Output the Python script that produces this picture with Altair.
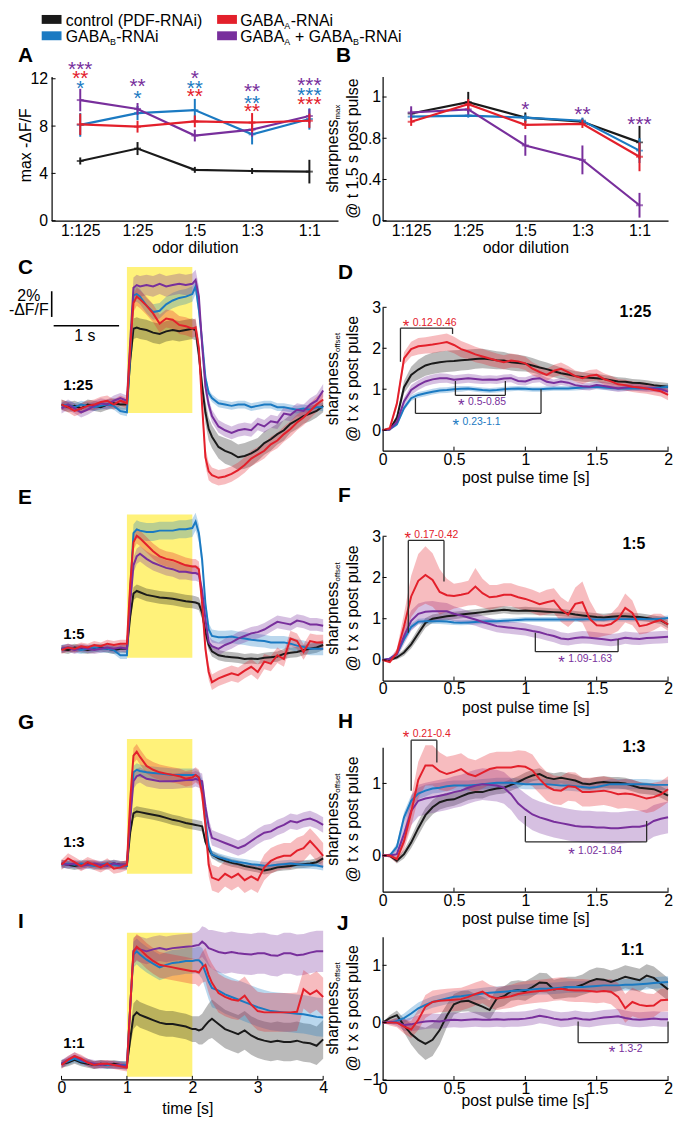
import altair as alt
import pandas as pd

FONT = "Liberation Sans"
COL = {"ctrl": "#1a1a1a", "gA": "#e3202b", "gB": "#1b7ac2", "gAB": "#782f9c"}
DRAW = ["ctrl", "gB", "gAB", "gA"]
YELLOW = "#fff27a"
BRK = "#2b2b2b"

# ------------------------------------------------------------------ data
DILUTIONS = ["1:125", "1:25", "1:5", "1:3", "1:1"]

A_BLK = [5.05, 6.1, 4.3, 4.2, 4.15]
A_BLK_ERR = [0.3, 0.55, 0.25, 0.25, 1.0]
A_RED = [8.15, 7.95, 8.4, 8.3, 8.45]
A_RED_ERR = [0.9, 0.5, 0.5, 0.8, 0.6]
A_BLU = [8.1, 9.1, 9.35, 7.3, 8.6]
A_BLU_ERR = [1.0, 0.6, 0.95, 0.85, 0.9]
A_PUR = [10.2, 9.45, 7.2, 7.7, 8.85]
A_PUR_ERR = [0.95, 0.5, 0.5, 0.6, 0.6]

A_STAR_DIL = ["1:125", "1:125", "1:125", "1:25", "1:25", "1:5", "1:5", "1:5", "1:3", "1:3", "1:3", "1:1", "1:1", "1:1"]
A_STAR_Y = [13.25, 12.5, 11.65, 11.78, 10.8, 12.47, 11.63, 10.94, 11.36, 10.38, 9.69, 11.86, 11.0, 10.25]
A_STAR_TXT = ["***", "**", "*", "**", "*", "*", "**", "**", "**", "**", "**", "***", "***", "***"]
A_STAR_GRP = ["gAB", "gA", "gB", "gAB", "gB", "gAB", "gB", "gA", "gAB", "gB", "gA", "gAB", "gB", "gA"]

B_BLK = [1.04, 1.15, 1.0, 0.96, 0.76]
B_BLK_ERR = [0.03, 0.1, 0.05, 0.03, 0.16]
B_RED = [0.96, 1.13, 0.93, 0.94, 0.62]
B_RED_ERR = [0.04, 0.05, 0.04, 0.04, 0.14]
B_BLU = [1.01, 1.02, 1.0, 0.97, 0.68]
B_BLU_ERR = [0.03, 0.02, 0.03, 0.03, 0.12]
B_PUR = [1.05, 1.08, 0.73, 0.59, 0.15]
B_PUR_ERR = [0.06, 0.05, 0.1, 0.14, 0.12]

B_STAR_DIL = ["1:5", "1:3", "1:1"]
B_STAR_Y = [1.13, 1.08, 0.99]
B_STAR_TXT = ["*", "**", "***"]
B_STAR_GRP = ["gAB", "gAB", "gAB"]

# time grid of the response traces (s)
TL = [0.0, 0.1, 0.2, 0.3, 0.4, 0.5, 0.6, 0.7, 0.8, 0.9,
      1.0, 1.05, 1.1, 1.15, 1.2,
      1.3, 1.4, 1.5, 1.6, 1.7, 1.8, 1.9, 2.0,
      2.05, 2.1, 2.15, 2.2, 2.25, 2.3,
      2.4, 2.5, 2.6, 2.7, 2.8, 2.9, 3.0, 3.1, 3.2, 3.3, 3.4, 3.5, 3.6, 3.7, 3.8, 3.9, 4.0]

# C (1:25)
C_BLK = [0.1, -0.1, 0.0, -0.2, 0.1, 0.0, -0.1, 0.1, 0.2, 0.1,
         0.1, 3.5, 6.0, 6.1, 6.0,
         5.9, 5.7, 5.6, 5.8, 5.9, 5.8, 5.9, 6.0,
         5.9, 4.0, 1.5, -0.5, -1.8, -2.4,
         -3.2, -3.5, -3.7, -4.0, -3.9, -3.7, -3.4, -2.9, -2.6, -2.2, -1.9, -1.4, -1.1, -0.8, -0.6, -0.4, 0.0]
C_BLK_SE = [0.4, 0.4, 0.4, 0.4, 0.4, 0.4, 0.4, 0.4, 0.4, 0.4,
            0.4, 0.5, 0.8, 0.8, 0.8,
            0.8, 0.8, 0.8, 0.8, 0.8, 0.8, 0.8, 0.8,
            0.8, 0.8, 0.8, 0.9, 0.9, 0.9,
            0.9, 1.0, 1.0, 1.0, 1.0, 1.0, 0.9, 0.9, 0.9, 0.8, 0.8, 0.7, 0.7, 0.6, 0.6, 0.5, 0.5]
C_RED = [0.1, -0.1, -0.4, -0.2, 0.0, 0.1, 0.3, 0.4, 0.1, 0.4,
         0.2, 4.5, 8.0, 8.5, 8.3,
         7.8, 7.2, 6.4, 6.8, 6.7, 6.3, 6.2, 6.0,
         6.1, 4.5, 0.0, -4.0, -5.1, -5.4,
         -5.6, -5.5, -5.3, -5.0, -4.6, -4.1, -3.8, -3.5, -3.0, -2.7, -2.2, -1.8, -1.3, -0.9, -0.4, 0.1, 0.5]
C_RED_SE = [0.4, 0.4, 0.4, 0.4, 0.4, 0.4, 0.4, 0.4, 0.4, 0.4,
            0.4, 0.6, 0.7, 0.7, 0.7,
            0.7, 0.7, 0.7, 0.7, 0.7, 0.7, 0.7, 0.7,
            0.7, 0.7, 0.7, 0.7, 0.7, 0.6,
            0.6, 0.6, 0.6, 0.6, 0.6, 0.6, 0.6, 0.6, 0.6, 0.6, 0.6, 0.6, 0.6, 0.6, 0.6, 0.6, 0.6]
C_BLU = [0.0, 0.1, -0.1, 0.1, 0.0, -0.1, 0.0, 0.1, 0.0, -0.4,
         -0.5, 4.0, 8.6, 8.7, 8.5,
         7.8, 7.3, 7.4, 7.9, 8.2, 8.4, 8.5, 8.7,
         9.3, 7.5, 5.0, 2.2, 1.0, 0.6,
         0.2, 0.1, 0.0, 0.1, 0.1, -0.1, 0.0, 0.1, 0.1, -0.1, -0.1, -0.2, -0.3, -0.2, -0.3, -0.1, -0.1]
C_BLU_SE = [0.3, 0.3, 0.3, 0.3, 0.3, 0.3, 0.3, 0.3, 0.3, 0.3,
            0.3, 0.5, 0.6, 0.6, 0.6,
            0.6, 0.6, 0.6, 0.6, 0.6, 0.6, 0.6, 0.6,
            0.6, 0.6, 0.5, 0.4, 0.3, 0.3,
            0.3, 0.3, 0.3, 0.3, 0.3, 0.3, 0.3, 0.3, 0.3, 0.3, 0.3, 0.3, 0.3, 0.3, 0.3, 0.3, 0.3]
C_PUR = [-0.2, 0.1, -0.2, -0.5, -0.3, 0.0, 0.2, 0.1, 0.4, 0.6,
         0.4, 5.0, 9.2, 9.4, 9.3,
         9.4, 9.3, 9.5, 9.3, 9.4, 9.5, 9.4, 9.5,
         9.8, 8.5, 4.7, 1.5, 0.1, -0.8,
         -1.6, -1.9, -2.1, -1.9, -1.8, -1.9, -1.4, -1.6, -1.2, -1.3, -0.6, -0.7, -0.3, -0.4, 0.1, 0.4, 1.2]
C_PUR_SE = [0.4, 0.4, 0.4, 0.4, 0.4, 0.4, 0.4, 0.4, 0.4, 0.4,
            0.4, 0.6, 0.8, 0.8, 0.8,
            0.8, 0.8, 0.8, 0.8, 0.8, 0.8, 0.8, 0.8,
            0.8, 0.8, 0.7, 0.6, 0.5, 0.5,
            0.5, 0.5, 0.5, 0.5, 0.5, 0.5, 0.5, 0.5, 0.5, 0.5, 0.5, 0.5, 0.5, 0.5, 0.5, 0.5, 0.5]

# E (1:5)
E_BLK = [0.0, -0.1, 0.1, 0.0, -0.1, 0.0, 0.1, 0.0, -0.1, 0.0,
         0.0, 2.5, 4.3, 4.5, 4.4,
         4.2, 4.1, 4.0, 3.95, 3.9, 3.8, 3.7, 3.65,
         3.6, 3.5, 2.8, 1.3, 0.3, -0.2,
         -0.5, -0.6, -0.65, -0.7, -0.8, -0.75, -0.8, -0.7, -0.65, -0.6, -0.4, -0.3, -0.25, -0.1, 0.0, 0.1, 0.3]
E_BLK_SE = [0.3, 0.3, 0.3, 0.3, 0.3, 0.3, 0.3, 0.3, 0.3, 0.3,
            0.3, 0.4, 0.5, 0.5, 0.5,
            0.5, 0.5, 0.5, 0.5, 0.5, 0.5, 0.5, 0.5,
            0.5, 0.5, 0.5, 0.5, 0.4, 0.4,
            0.4, 0.4, 0.4, 0.4, 0.4, 0.4, 0.4, 0.4, 0.4, 0.4, 0.4, 0.4, 0.4, 0.4, 0.4, 0.4, 0.4]
E_RED = [-0.1, 0.1, 0.0, 0.2, 0.1, 0.3, 0.2, 0.4, 0.3, 0.4,
         0.4, 5.0, 8.3, 8.8, 8.6,
         8.1, 7.6, 7.2, 7.0, 6.9, 6.7, 6.5, 6.4,
         6.4, 6.2, 3.5, 0.0, -1.8, -2.6,
         -2.3, -2.1, -1.9, -2.05, -1.7, -1.4, -1.8, -1.0, -1.15, -0.5, -0.8, 0.8, 0.6, -0.25, 0.6, 0.5, 0.5]
E_RED_SE = [0.3, 0.3, 0.3, 0.3, 0.3, 0.3, 0.3, 0.3, 0.3, 0.3,
            0.3, 0.5, 0.6, 0.6, 0.6,
            0.6, 0.6, 0.6, 0.6, 0.6, 0.6, 0.6, 0.6,
            0.6, 0.6, 0.6, 0.6, 0.6, 0.6,
            0.6, 0.6, 0.6, 0.6, 0.6, 0.6, 0.6, 0.6, 0.6, 0.6, 0.6, 0.6, 0.6, 0.6, 0.6, 0.6, 0.6]
E_BLU = [0.0, 0.1, 0.0, -0.1, 0.0, 0.1, 0.0, 0.0, -0.1, -0.5,
         -0.5, 4.5, 9.0, 9.3, 9.2,
         9.1, 9.1, 9.2, 9.2, 9.2, 9.3, 9.3, 9.4,
         9.9, 9.0, 6.9, 3.5, 1.5, 1.0,
         0.9, 0.9, 0.95, 0.85, 0.8, 0.7, 0.65, 0.6, 0.5, 0.5, 0.5, 0.4, 0.25, 0.15, 0.0, 0.0, 0.0]
E_BLU_SE = [0.3, 0.3, 0.3, 0.3, 0.3, 0.3, 0.3, 0.3, 0.3, 0.3,
            0.3, 0.5, 0.7, 0.7, 0.7,
            0.7, 0.7, 0.7, 0.7, 0.7, 0.7, 0.7, 0.7,
            0.7, 0.7, 0.6, 0.5, 0.5, 0.5,
            0.5, 0.5, 0.5, 0.5, 0.5, 0.5, 0.5, 0.5, 0.5, 0.5, 0.5, 0.5, 0.5, 0.5, 0.5, 0.5, 0.5]
E_PUR = [0.0, 0.1, -0.1, 0.1, 0.0, -0.1, 0.0, 0.1, 0.0, 0.1,
         0.0, 3.5, 6.5, 7.2, 7.4,
         7.0, 6.7, 6.5, 6.3, 6.2, 6.0, 6.0, 5.9,
         5.9, 5.8, 4.5, 2.3, 0.5, 0.2,
         0.0, 0.3, 0.5, 0.8, 1.0, 1.2, 1.3, 1.5, 1.8, 2.1, 2.0, 1.9, 2.2, 2.1, 1.9, 1.9, 1.8]
E_PUR_SE = [0.3, 0.3, 0.3, 0.3, 0.3, 0.3, 0.3, 0.3, 0.3, 0.3,
            0.3, 0.5, 0.6, 0.6, 0.6,
            0.6, 0.6, 0.6, 0.6, 0.6, 0.6, 0.6, 0.6,
            0.6, 0.6, 0.6, 0.5, 0.5, 0.5,
            0.5, 0.5, 0.5, 0.5, 0.5, 0.5, 0.5, 0.5, 0.5, 0.5, 0.5, 0.5, 0.5, 0.5, 0.5, 0.5, 0.5]

# G (1:3)
G_BLK = [0.1, 0.0, -0.1, 0.0, 0.1, 0.0, -0.1, 0.0, 0.1, 0.0,
         0.0, 2.5, 4.0, 4.15, 4.1,
         4.0, 3.9, 3.8, 3.65, 3.5, 3.4, 3.25, 3.15,
         3.1, 3.05, 3.0, 1.8, 1.2, 0.8,
         0.5, 0.3, 0.15, 0.05, -0.1, -0.2, -0.3, -0.45, -0.35, -0.2, -0.15, -0.1, 0.0, 0.05, 0.1, 0.2, 0.5]
G_BLK_SE = [0.3, 0.3, 0.3, 0.3, 0.3, 0.3, 0.3, 0.3, 0.3, 0.3,
            0.3, 0.3, 0.4, 0.4, 0.4,
            0.4, 0.4, 0.4, 0.4, 0.4, 0.4, 0.4, 0.4,
            0.4, 0.4, 0.4, 0.3, 0.3, 0.3,
            0.3, 0.3, 0.3, 0.3, 0.3, 0.3, 0.3, 0.3, 0.3, 0.3, 0.3, 0.3, 0.3, 0.3, 0.3, 0.3, 0.3]
G_RED = [0.0, 0.5, 0.2, -0.1, 0.2, 0.0, -0.2, 0.1, -0.3, -0.2,
         0.0, 5.0, 8.5, 8.8, 8.4,
         7.7, 7.4, 7.2, 7.1, 7.0, 6.9, 6.7, 6.8,
         7.0, 6.8, 5.5, 3.1, 0.0, -1.0,
         -1.2, -0.7, -1.0, -0.7, -1.2, -0.9, -1.2, -0.2, 0.3, 0.55, 0.7, 0.7, 1.1, 1.3, 1.85, 1.3, 0.7]
G_RED_SE = [0.4, 0.4, 0.4, 0.4, 0.4, 0.4, 0.4, 0.4, 0.4, 0.4,
            0.4, 0.5, 0.6, 0.6, 0.6,
            0.6, 0.6, 0.6, 0.6, 0.6, 0.6, 0.6, 0.6,
            0.6, 0.6, 0.7, 0.8, 0.9, 1.0,
            1.0, 1.0, 1.0, 1.0, 1.0, 1.0, 1.0, 1.0, 1.0, 1.0, 1.0, 1.0, 1.0, 1.0, 1.0, 1.0, 1.0]
G_BLU = [0.0, 0.1, 0.0, 0.1, 0.0, -0.1, 0.0, 0.1, 0.0, -0.1,
         -0.1, 4.0, 7.2, 7.4, 7.3,
         7.2, 7.15, 7.1, 7.05, 7.0, 7.0, 7.0, 7.0,
         7.0, 6.8, 6.2, 3.5, 1.5, 0.8,
         0.6, 0.45, 0.3, 0.2, 0.15, 0.05, 0.0, -0.08, -0.05, 0.0, 0.05, 0.1, 0.05, 0.0, 0.0, -0.05, -0.15]
G_BLU_SE = [0.3, 0.3, 0.3, 0.3, 0.3, 0.3, 0.3, 0.3, 0.3, 0.3,
            0.3, 0.4, 0.5, 0.5, 0.5,
            0.5, 0.5, 0.5, 0.5, 0.5, 0.5, 0.5, 0.5,
            0.5, 0.5, 0.5, 0.4, 0.3, 0.3,
            0.3, 0.3, 0.3, 0.3, 0.3, 0.3, 0.3, 0.3, 0.3, 0.3, 0.3, 0.3, 0.3, 0.3, 0.3, 0.3, 0.3]
G_PUR = [0.1, 0.0, 0.1, -0.1, 0.0, 0.1, 0.0, -0.1, 0.1, 0.0,
         0.0, 3.5, 6.5, 6.9, 7.0,
         6.7, 6.6, 6.5, 6.5, 6.5, 6.55, 6.6, 6.6,
         6.7, 6.6, 6.5, 4.5, 3.0, 2.1,
         1.9, 1.7, 1.5, 1.3, 1.5, 1.85, 2.2, 2.5, 2.6, 2.9, 3.1, 3.4, 3.3, 3.5, 3.6, 3.4, 3.1]
G_PUR_SE = [0.3, 0.3, 0.3, 0.3, 0.3, 0.3, 0.3, 0.3, 0.3, 0.3,
            0.3, 0.5, 0.6, 0.6, 0.6,
            0.6, 0.6, 0.6, 0.6, 0.6, 0.6, 0.6, 0.6,
            0.6, 0.6, 0.6, 0.6, 0.6, 0.6,
            0.6, 0.6, 0.6, 0.6, 0.6, 0.6, 0.6, 0.6, 0.6, 0.6, 0.6, 0.6, 0.6, 0.6, 0.6, 0.6, 0.6]

# I (1:1)
I_BLK = [0.1, 0.2, 0.4, 0.2, 0.1, 0.0, 0.1, 0.0, 0.1, 0.0,
         0.0, 2.0, 3.8, 4.1, 3.9,
         3.7, 3.5, 3.3, 3.2, 3.2, 3.1, 3.0, 2.8,
         2.8, 2.7, 2.8, 3.1, 3.4, 3.6,
         3.2, 2.8, 2.6, 2.4, 2.7, 2.3, 2.05, 1.9, 1.8, 1.9, 1.8, 1.8, 1.9, 1.75, 1.7, 1.5, 2.0]
I_BLK_SE = [0.3, 0.3, 0.3, 0.3, 0.3, 0.3, 0.3, 0.3, 0.3, 0.3,
            0.3, 0.6, 1.0, 1.0, 1.0,
            1.0, 1.0, 1.0, 1.0, 1.0, 1.0, 1.0, 1.0,
            1.0, 1.1, 1.2, 1.3, 1.4, 1.5,
            1.5, 1.5, 1.5, 1.5, 1.5, 1.5, 1.5, 1.5, 1.5, 1.5, 1.5, 1.5, 1.5, 1.5, 1.5, 1.5, 1.5]
I_RED = [0.0, 0.4, 0.7, 0.5, 0.2, 0.0, 0.1, 0.1, 0.0, -0.1,
         -0.2, 4.5, 8.8, 9.2, 9.0,
         8.5, 8.1, 7.8, 7.7, 7.6, 7.5, 7.4, 7.3,
         7.3, 7.2, 7.6, 7.8, 7.0, 6.4,
         5.6, 5.3, 5.1, 5.0, 5.4, 4.7, 4.2, 4.1, 4.1, 4.1, 4.1, 4.1, 4.15, 5.9, 5.5, 5.8, 5.3]
I_RED_SE = [0.3, 0.3, 0.3, 0.3, 0.3, 0.3, 0.3, 0.3, 0.3, 0.3,
            0.3, 0.6, 1.0, 1.0, 1.0,
            1.0, 1.0, 1.0, 1.0, 1.0, 1.0, 1.0, 1.0,
            1.0, 1.1, 1.2, 1.3, 1.4, 1.5,
            1.5, 1.5, 1.5, 1.5, 1.5, 1.5, 1.5, 1.5, 1.5, 1.5, 1.5, 1.5, 1.5, 1.5, 1.5, 1.5, 1.5]
I_BLU = [0.1, 0.3, 0.5, 0.3, 0.2, 0.0, 0.1, 0.0, 0.0, 0.0,
         0.0, 4.5, 8.6, 8.85, 8.6,
         8.2, 7.9, 7.6, 7.8, 7.95, 8.0, 8.1, 8.1,
         8.15, 8.15, 7.9, 7.2, 6.5, 6.0,
         5.8, 5.5, 5.3, 5.1, 4.9, 4.7, 4.5, 4.35, 4.2, 4.15, 4.1, 4.05, 4.0, 3.95, 3.85, 3.75, 3.7]
I_BLU_SE = [0.3, 0.3, 0.3, 0.3, 0.3, 0.3, 0.3, 0.3, 0.3, 0.3,
            0.3, 0.6, 1.0, 1.0, 1.0,
            1.0, 1.0, 1.0, 1.0, 1.0, 1.0, 1.0, 1.0,
            1.0, 1.1, 1.2, 1.3, 1.4, 1.5,
            1.5, 1.5, 1.5, 1.5, 1.5, 1.5, 1.5, 1.5, 1.5, 1.5, 1.5, 1.5, 1.5, 1.5, 1.5, 1.5, 1.5]
I_PUR = [0.1, 0.4, 0.7, 0.4, 0.2, 0.1, 0.0, 0.1, 0.0, 0.0,
         -0.1, 4.5, 8.9, 9.1, 9.0,
         8.85, 9.0, 9.1, 9.0, 9.1, 9.15, 9.2, 9.25,
         9.3, 9.35, 9.6, 9.4, 9.1, 9.0,
         8.8, 8.7, 8.8, 8.7, 8.65, 8.6, 8.7, 8.7, 8.55, 8.5, 8.7, 8.7, 8.55, 8.6, 8.75, 8.85, 8.85]
I_PUR_SE = [0.3, 0.3, 0.3, 0.3, 0.3, 0.3, 0.3, 0.3, 0.3, 0.3,
            0.3, 0.6, 1.0, 1.0, 1.0,
            1.0, 1.0, 1.0, 1.0, 1.0, 1.0, 1.0, 1.0,
            1.0, 1.1, 1.2, 1.3, 1.4, 1.5,
            1.6, 1.6, 1.6, 1.6, 1.6, 1.6, 1.6, 1.6, 1.6, 1.6, 1.6, 1.6, 1.6, 1.6, 1.6, 1.6, 1.6]

# post pulse time grid (s)
TR = [0.0, 0.05, 0.1, 0.15, 0.2, 0.25, 0.3, 0.35, 0.4, 0.45, 0.5, 0.55, 0.6, 0.65, 0.7, 0.75, 0.8, 0.85, 0.9, 0.95,
      1.0, 1.05, 1.1, 1.15, 1.2, 1.25, 1.3, 1.35, 1.4, 1.45, 1.5, 1.55, 1.6, 1.65, 1.7, 1.75, 1.8, 1.85, 1.9, 1.95, 2.0]

# D (1:25)
D_BLK = [0, 0.02, 0.3, 1.05, 1.35, 1.48, 1.58, 1.63, 1.66, 1.68, 1.69, 1.71, 1.72, 1.74, 1.75, 1.73, 1.71, 1.7, 1.66, 1.64,
         1.62, 1.58, 1.53, 1.49, 1.44, 1.39, 1.36, 1.32, 1.3, 1.28, 1.27, 1.25, 1.22, 1.19, 1.18, 1.16, 1.15, 1.13, 1.1, 1.08, 1.06]
D_BLK_SE = [0, 0.02, 0.08, 0.15, 0.2, 0.24, 0.25, 0.26, 0.26, 0.26, 0.26, 0.25, 0.25, 0.24, 0.24, 0.23, 0.22, 0.21, 0.2, 0.2,
            0.19, 0.18, 0.17, 0.16, 0.15, 0.14, 0.13, 0.12, 0.12, 0.11, 0.11, 0.1, 0.1, 0.1, 0.1, 0.09, 0.09, 0.09, 0.09, 0.09, 0.09]
D_RED = [0, 0.05, 0.65, 1.75, 1.98, 2.05, 2.07, 2.09, 2.12, 2.15, 2.08, 1.98, 1.92, 1.85, 1.8, 1.75, 1.7, 1.66, 1.7, 1.68,
         1.63, 1.5, 1.42, 1.35, 1.45, 1.5, 1.42, 1.32, 1.27, 1.33, 1.35, 1.25, 1.19, 1.12, 1.1, 1.06, 1.04, 1.02, 0.98, 0.95, 0.86]
D_RED_SE = [0, 0.03, 0.1, 0.15, 0.18, 0.2, 0.2, 0.21, 0.21, 0.21, 0.2, 0.2, 0.19, 0.19, 0.18, 0.18, 0.17, 0.17, 0.17, 0.16,
            0.16, 0.16, 0.15, 0.15, 0.15, 0.15, 0.15, 0.14, 0.14, 0.14, 0.14, 0.14, 0.14, 0.13, 0.13, 0.13, 0.13, 0.13, 0.13, 0.13, 0.13]
D_BLU = [0, 0.02, 0.14, 0.54, 0.78, 0.86, 0.9, 0.94, 0.97, 0.98, 1.0, 1.01, 1.02, 1.0, 0.98, 0.97, 0.98, 1.0, 1.01, 1.02,
         1.01, 1.0, 1.0, 1.01, 1.02, 1.02, 1.02, 1.03, 1.04, 1.05, 1.06, 1.04, 1.03, 1.02, 1.02, 1.02, 1.02, 1.02, 1.03, 1.04, 1.06]
D_BLU_SE = [0, 0.02, 0.04, 0.06, 0.07, 0.07, 0.07, 0.07, 0.07, 0.07, 0.07, 0.07, 0.06, 0.06, 0.06, 0.06, 0.06, 0.06, 0.06, 0.06,
            0.06, 0.06, 0.06, 0.06, 0.06, 0.06, 0.06, 0.06, 0.06, 0.06, 0.06, 0.06, 0.06, 0.06, 0.06, 0.06, 0.06, 0.06, 0.06, 0.06, 0.06]
D_PUR = [0, 0.02, 0.2, 0.7, 0.98, 1.1, 1.19, 1.24, 1.27, 1.27, 1.23, 1.25, 1.27, 1.25, 1.23, 1.24, 1.23, 1.26, 1.27, 1.2,
         1.19, 1.25, 1.27, 1.18, 1.15, 1.19, 1.16, 1.1, 1.07, 1.06, 1.1, 1.08, 1.05, 1.02, 1.04, 1.06, 1.04, 1.02, 1.02, 1.0, 0.94]
D_PUR_SE = [0, 0.02, 0.06, 0.1, 0.12, 0.12, 0.12, 0.12, 0.12, 0.11, 0.11, 0.11, 0.11, 0.11, 0.1, 0.1, 0.1, 0.1, 0.1, 0.1,
            0.1, 0.1, 0.1, 0.1, 0.09, 0.09, 0.09, 0.09, 0.09, 0.09, 0.09, 0.09, 0.09, 0.09, 0.09, 0.09, 0.09, 0.09, 0.09, 0.09, 0.09]

# F (1:5)
F_BLK = [0, 0.0, 0.06, 0.18, 0.38, 0.64, 0.9, 1.0, 1.03, 1.06, 1.08, 1.1, 1.12, 1.14, 1.16, 1.18, 1.2, 1.22, 1.2, 1.19,
         1.2, 1.19, 1.18, 1.17, 1.16, 1.15, 1.13, 1.1, 1.08, 1.06, 1.04, 1.03, 1.05, 1.06, 1.06, 1.05, 1.04, 1.02, 0.99, 0.96, 0.86]
F_BLK_SE = [0, 0.02, 0.05, 0.08, 0.1, 0.12, 0.12, 0.1, 0.1, 0.1, 0.09, 0.09, 0.09, 0.09, 0.09, 0.09, 0.09, 0.09, 0.09, 0.09,
            0.09, 0.09, 0.09, 0.09, 0.09, 0.09, 0.09, 0.09, 0.09, 0.09, 0.09, 0.09, 0.09, 0.09, 0.09, 0.09, 0.09, 0.09, 0.09, 0.09, 0.09]
F_RED = [0, -0.05, 0.18, 0.82, 1.54, 1.92, 2.06, 1.94, 1.65, 1.57, 1.55, 1.58, 1.62, 1.78, 1.62, 1.52, 1.54, 1.58, 1.58, 1.52,
         1.48, 1.42, 1.35, 1.4, 1.44, 1.22, 1.1, 1.36, 1.4, 1.0, 0.84, 0.83, 0.87, 1.0, 1.26, 1.14, 0.82, 0.85, 0.92, 0.97, 0.86]
F_RED_SE = [0, 0.03, 0.1, 0.3, 0.5, 0.65, 0.7, 0.65, 0.55, 0.4, 0.3, 0.3, 0.3, 0.45, 0.35, 0.3, 0.28, 0.28, 0.28, 0.28,
            0.28, 0.28, 0.28, 0.3, 0.3, 0.3, 0.3, 0.4, 0.5, 0.45, 0.3, 0.25, 0.25, 0.3, 0.35, 0.3, 0.2, 0.2, 0.2, 0.15, 0.15]
F_BLU = [0, 0.03, 0.14, 0.5, 0.8, 0.93, 0.94, 0.94, 0.94, 0.93, 0.91, 0.9, 0.91, 0.92, 0.93, 0.94, 0.94, 0.95, 0.96, 0.97,
         0.98, 0.98, 0.98, 0.98, 0.98, 0.98, 0.98, 0.98, 0.98, 0.99, 0.98, 0.98, 0.99, 0.99, 0.99, 0.99, 1.0, 0.99, 0.99, 1.0, 1.02]
F_BLU_SE = [0, 0.02, 0.04, 0.06, 0.07, 0.07, 0.07, 0.07, 0.07, 0.07, 0.06, 0.06, 0.06, 0.06, 0.06, 0.06, 0.06, 0.06, 0.06, 0.06,
            0.06, 0.06, 0.06, 0.06, 0.06, 0.06, 0.06, 0.06, 0.06, 0.06, 0.06, 0.06, 0.06, 0.06, 0.06, 0.06, 0.06, 0.06, 0.06, 0.06, 0.06]
F_PUR = [0, 0.03, 0.14, 0.58, 0.95, 1.12, 1.17, 1.18, 1.18, 1.18, 1.12, 1.08, 1.03, 0.98, 0.92, 0.87, 0.82, 0.8, 0.78, 0.76,
         0.74, 0.7, 0.67, 0.62, 0.58, 0.52, 0.5, 0.53, 0.55, 0.54, 0.52, 0.5, 0.48, 0.5, 0.54, 0.52, 0.51, 0.53, 0.54, 0.55, 0.56]
F_PUR_SE = [0, 0.03, 0.1, 0.2, 0.25, 0.25, 0.25, 0.25, 0.22, 0.2, 0.18, 0.17, 0.16, 0.15, 0.15, 0.15, 0.15, 0.15, 0.15, 0.15,
            0.15, 0.15, 0.15, 0.15, 0.15, 0.15, 0.15, 0.15, 0.15, 0.15, 0.15, 0.15, 0.15, 0.15, 0.15, 0.15, 0.15, 0.15, 0.15, 0.15, 0.15]

# H (1:3)
H_BLK = [0, 0, -0.07, 0.02, 0.18, 0.38, 0.56, 0.67, 0.74, 0.77, 0.78, 0.82, 0.86, 0.88, 0.88, 0.91, 0.93, 0.94, 0.98, 1.02,
         1.07, 1.11, 1.13, 1.08, 1.06, 1.08, 1.06, 1.04, 1.0, 0.99, 1.01, 1.02, 1.01, 1.01, 1.0, 0.97, 0.94, 0.93, 0.92, 0.88, 0.83]
H_BLK_SE = [0, 0.02, 0.04, 0.06, 0.08, 0.1, 0.1, 0.1, 0.1, 0.1, 0.09, 0.09, 0.09, 0.09, 0.09, 0.08, 0.08, 0.08, 0.08, 0.08,
            0.08, 0.08, 0.08, 0.08, 0.08, 0.08, 0.08, 0.08, 0.08, 0.08, 0.08, 0.08, 0.08, 0.08, 0.08, 0.08, 0.08, 0.08, 0.08, 0.08, 0.08]
H_RED = [0, 0, -0.05, 0.2, 0.6, 1.05, 1.25, 1.25, 1.17, 1.13, 1.16, 1.2, 1.13, 1.1, 1.15, 1.2, 1.22, 1.22, 1.22, 1.24,
         1.23, 1.18, 1.06, 0.96, 0.91, 0.9, 0.96, 0.95, 0.88, 0.88, 0.89, 0.9, 0.88, 0.85, 0.86, 0.85, 0.82, 0.79, 0.81, 0.85, 0.92]
H_RED_SE = [0, 0.03, 0.05, 0.12, 0.2, 0.25, 0.28, 0.28, 0.26, 0.24, 0.23, 0.22, 0.22, 0.22, 0.22, 0.22, 0.22, 0.22, 0.22, 0.22,
            0.22, 0.22, 0.2, 0.2, 0.2, 0.2, 0.2, 0.2, 0.2, 0.2, 0.2, 0.2, 0.2, 0.2, 0.2, 0.2, 0.2, 0.2, 0.2, 0.18, 0.18]
H_BLU = [0, 0, 0.12, 0.53, 0.76, 0.86, 0.9, 0.93, 0.94, 0.96, 0.97, 0.97, 0.97, 0.98, 0.99, 1.0, 1.01, 1.01, 1.01, 1.0,
         0.99, 0.99, 0.99, 0.99, 0.98, 0.97, 0.97, 0.96, 0.95, 0.94, 0.95, 0.97, 0.99, 0.99, 0.99, 0.99, 0.99, 0.99, 0.98, 0.98, 0.98]
H_BLU_SE = [0, 0.02, 0.05, 0.07, 0.08, 0.08, 0.08, 0.07, 0.07, 0.07, 0.07, 0.07, 0.07, 0.07, 0.07, 0.07, 0.07, 0.07, 0.07, 0.07,
            0.07, 0.07, 0.07, 0.07, 0.07, 0.07, 0.07, 0.07, 0.07, 0.07, 0.07, 0.07, 0.07, 0.07, 0.07, 0.07, 0.07, 0.07, 0.07, 0.07, 0.07]
H_PUR = [0, 0, 0.02, 0.3, 0.62, 0.76, 0.79, 0.81, 0.83, 0.85, 0.88, 0.9, 0.94, 0.97, 0.99, 0.98, 0.97, 0.94, 0.85, 0.72,
         0.64, 0.57, 0.53, 0.5, 0.47, 0.45, 0.43, 0.41, 0.4, 0.4, 0.39, 0.39, 0.38, 0.38, 0.39, 0.4, 0.4, 0.42, 0.48, 0.51, 0.53]
H_PUR_SE = [0, 0.03, 0.08, 0.15, 0.2, 0.22, 0.22, 0.22, 0.22, 0.22, 0.22, 0.22, 0.22, 0.22, 0.22, 0.22, 0.22, 0.22, 0.22, 0.22,
            0.22, 0.22, 0.22, 0.22, 0.22, 0.22, 0.22, 0.22, 0.22, 0.22, 0.22, 0.22, 0.22, 0.22, 0.22, 0.22, 0.22, 0.22, 0.22, 0.22, 0.22]

# J (1:1)
J_BLK = [0, 0.08, 0.13, -0.05, -0.2, -0.3, -0.37, -0.3, -0.13, 0.12, 0.32, 0.37, 0.38, 0.33, 0.28, 0.22, 0.42, 0.46, 0.55, 0.57,
         0.55, 0.62, 0.7, 0.69, 0.58, 0.6, 0.62, 0.62, 0.66, 0.72, 0.76, 0.75, 0.71, 0.75, 0.8, 0.77, 0.74, 0.82, 0.78, 0.68, 0.58]
J_BLK_SE = [0, 0.05, 0.08, 0.12, 0.18, 0.24, 0.28, 0.28, 0.25, 0.2, 0.18, 0.18, 0.18, 0.17, 0.17, 0.17, 0.17, 0.17, 0.17, 0.17,
            0.17, 0.17, 0.17, 0.17, 0.17, 0.18, 0.18, 0.18, 0.18, 0.2, 0.2, 0.2, 0.2, 0.2, 0.2, 0.2, 0.2, 0.2, 0.2, 0.2, 0.2]
J_RED = [0, 0, 0, -0.07, -0.12, 0.05, 0.28, 0.36, 0.38, 0.39, 0.4, 0.41, 0.45, 0.5, 0.54, 0.46, 0.42, 0.44, 0.46, 0.5,
         0.52, 0.54, 0.55, 0.56, 0.58, 0.59, 0.57, 0.56, 0.56, 0.55, 0.54, 0.55, 0.54, 0.45, 0.25, 0.36, 0.31, 0.29, 0.3, 0.39, 0.4]
J_RED_SE = [0, 0.05, 0.08, 0.12, 0.15, 0.18, 0.2, 0.2, 0.2, 0.2, 0.2, 0.2, 0.2, 0.2, 0.2, 0.2, 0.2, 0.2, 0.2, 0.2,
            0.2, 0.2, 0.2, 0.2, 0.2, 0.2, 0.2, 0.2, 0.2, 0.2, 0.2, 0.2, 0.22, 0.24, 0.25, 0.25, 0.24, 0.22, 0.2, 0.2, 0.2]
J_BLU = [0, 0, 0.03, 0.08, 0.16, 0.25, 0.31, 0.36, 0.39, 0.42, 0.45, 0.46, 0.48, 0.49, 0.51, 0.52, 0.53, 0.54, 0.55, 0.56,
         0.57, 0.58, 0.59, 0.59, 0.6, 0.61, 0.62, 0.62, 0.62, 0.63, 0.64, 0.65, 0.65, 0.65, 0.66, 0.66, 0.67, 0.68, 0.69, 0.7, 0.71]
J_BLU_SE = [0, 0.03, 0.06, 0.08, 0.1, 0.1, 0.1, 0.1, 0.1, 0.1, 0.1, 0.1, 0.1, 0.1, 0.1, 0.1, 0.1, 0.1, 0.1, 0.1,
            0.1, 0.1, 0.1, 0.1, 0.1, 0.1, 0.1, 0.1, 0.1, 0.1, 0.1, 0.1, 0.1, 0.1, 0.1, 0.1, 0.1, 0.1, 0.1, 0.1, 0.1]
J_PUR = [0, 0.01, 0.0, -0.04, -0.03, 0.0, 0.02, 0.03, 0.02, 0.04, 0.05, 0.04, 0.05, 0.06, 0.05, 0.05, 0.06, 0.05, 0.06, 0.06,
         0.07, 0.09, 0.12, 0.1, 0.07, 0.05, 0.06, 0.08, 0.06, 0.05, 0.07, 0.09, 0.1, 0.11, 0.08, 0.06, 0.05, 0.06, 0.07, 0.06, 0.06]
J_PUR_SE = [0, 0.03, 0.06, 0.1, 0.12, 0.13, 0.13, 0.13, 0.13, 0.13, 0.13, 0.13, 0.13, 0.13, 0.13, 0.13, 0.13, 0.13, 0.13, 0.13,
            0.13, 0.13, 0.13, 0.13, 0.13, 0.13, 0.13, 0.13, 0.13, 0.13, 0.13, 0.13, 0.13, 0.13, 0.13, 0.13, 0.13, 0.13, 0.13, 0.13, 0.13]

# significance brackets: (start, end, bar level, left leg end, right leg end)
D_BRACKETS = [(0.125, 0.49, 2.49, 1.67, 2.35), (0.51, 0.86, 0.85, 1.2, 1.2), (0.23, 1.11, 0.41, 0.78, 1.0)]
D_SIG = [(0.141, 2.64, "0.12-0.46", "gA"), (0.529, 0.7, "0.5-0.85", "gAB"), (0.49, 0.22, "0.23-1.1", "gB")]
F_BRACKETS = [(0.18, 0.43, 2.9, 0.66, 1.9), (1.07, 1.65, 0.2, 0.66, 0.5)]
F_SIG = [(0.153, 3.06, "0.17-0.42", "gA"), (1.231, 0.04, "1.09-1.63", "gAB")]
H_BRACKETS = [(0.2, 0.38, 1.6, 0.9, 1.29), (1.0, 1.85, 0.19, 0.55, 0.48)]
H_SIG = [(0.141, 1.7, "0.21-0.4", "gA"), (1.30, 0.08, "1.02-1.84", "gAB")]
J_BRACKETS = [(1.37, 2.0, -0.35, 0.02, 0.02)]
J_SIG = [(1.585, -0.45, "1.3-2", "gAB")]


# ------------------------------------------------------------------ helpers
def txt(s, x, y, size=16, weight="normal", angle=0, align="center", baseline="middle", color="black"):
    return alt.Chart(pd.DataFrame({"s": [s]})).mark_text(
        font=FONT, fontSize=size, fontWeight=weight, angle=angle, align=align,
        baseline=baseline, color=color
    ).encode(text="s:N", x=alt.value(x), y=alt.value(y))


def rect_px(x0, x1, y0, y1, color):
    return alt.Chart(pd.DataFrame({"a": [0]})).mark_rect(color=color).encode(
        x=alt.value(x0), x2=alt.value(x1), y=alt.value(y0), y2=alt.value(y1))


def spacer(w, h):
    return alt.Chart(pd.DataFrame({"s": [""]})).mark_text().encode(
        text="s:N", x=alt.value(0), y=alt.value(0)).properties(width=w, height=h)


def ytitle_sub(main, main_w, sub, sub_w, line2, h, x1=-50, x2=-30):
    yc = h / 2
    y0 = yc + (main_w + sub_w) / 2
    return [txt(main, x1, y0, angle=270, align="left"),
            txt(sub, x1 + 4.5, y0 - main_w, size=8, angle=270, align="left"),
            txt(line2, x2, yc, angle=270)]


def qfuncs(xs, ys, xaxis, yaxis):
    def X(f):
        return alt.X(f, type="quantitative", scale=xs, axis=xaxis)

    def Y(f):
        return alt.Y(f, type="quantitative", scale=ys, axis=yaxis)
    return X, Y


def make_df(t, series):
    rows = []
    for grp, m, s in series:
        for ti, mi, si in zip(t, m, s):
            rows.append({"t": ti, "grp": grp, "m": mi, "lo": mi - si, "hi": mi + si})
    return pd.DataFrame(rows)


def band_line_layers(df, X, Y):
    out = []
    for g in DRAW:
        out.append(alt.Chart(df).transform_filter(alt.datum.grp == g).mark_area(
            color=COL[g], opacity=0.3).encode(x=X("t"), y=Y("lo"), y2="hi"))
    for g in DRAW:
        out.append(alt.Chart(df).transform_filter(alt.datum.grp == g).mark_line(
            color=COL[g], strokeWidth=2).encode(x=X("t"), y=Y("m")))
    return out


def bracket_layers(brs, X, Y):
    rows = []
    for x1, x2, yb, l1, l2 in brs:
        rows.append({"xa": x1, "xb": x2, "ya": yb, "yz": yb})
        rows.append({"xa": x1, "xb": x1, "ya": l1, "yz": yb})
        rows.append({"xa": x2, "xb": x2, "ya": l2, "yz": yb})
    df = pd.DataFrame(rows)
    return [alt.Chart(df).mark_rule(color=BRK, strokeWidth=1.3).encode(
        x=X("xa"), x2="xb", y=Y("ya"), y2="yz")]


def sig_layers(sigs, X, Y):
    df = pd.DataFrame(sigs, columns=["t", "v", "lab", "grp"])
    df["col"] = [COL[g] for g in df["grp"]]
    star = alt.Chart(df).mark_text(font=FONT, fontSize=17, align="left", baseline="alphabetic", dy=10).encode(
        x=X("t"), y=Y("v"), text=alt.value("*"), color=alt.Color("col:N", scale=None))
    lab = alt.Chart(df).mark_text(font=FONT, fontSize=10.5, align="left", baseline="alphabetic", dx=10, dy=4).encode(
        x=X("t"), y=Y("v"), text="lab:N", color=alt.Color("col:N", scale=None))
    return [star, lab]


def dt_text(t, v, s, X, Y, size=15, weight="bold", align="left", color="black"):
    return alt.Chart(pd.DataFrame({"t": [t], "v": [v], "s": [s]})).mark_text(
        font=FONT, fontSize=size, fontWeight=weight, align=align, baseline="middle", color=color
    ).encode(x=X("t"), y=Y("v"), text="s:N")


# ------------------------------------------------------------------ A / B
def dil_panel(series, ydom, yvals, stars, h, w, title_layers, letter, letter_x, ylab_pad):
    rows = []
    for g, m, e in series:
        for d, mi, ei in zip(DILUTIONS, m, e):
            rows.append({"dil": d, "grp": g, "m": mi, "lo": mi - ei, "hi": mi + ei})
    df = pd.DataFrame(rows)
    xs = alt.Scale(type="point", domain=DILUTIONS, padding=0.5)
    ys = alt.Scale(domain=ydom, nice=False, zero=False)
    xax = alt.Axis(title="odor dilution", labelAngle=0, tickSize=0, labelPadding=1.5, titlePadding=1.5)
    yax = alt.Axis(values=yvals, title=None, tickSize=0, labelPadding=ylab_pad, format="~g")

    def X(f):
        return alt.X(f, type="nominal", scale=xs, axis=xax, sort=DILUTIONS)

    def Y(f):
        return alt.Y(f, type="quantitative", scale=ys, axis=yax)

    layers = []
    for g in DRAW:
        sub = alt.Chart(df).transform_filter(alt.datum.grp == g)
        layers.append(sub.mark_rule(color=COL[g], strokeWidth=2).encode(x=X("dil"), y=Y("lo"), y2="hi"))
        layers.append(sub.mark_line(color=COL[g], strokeWidth=2.2).encode(x=X("dil"), y=Y("m")))
        layers.append(sub.mark_tick(color=COL[g], size=7, thickness=2).encode(x=X("dil"), y=Y("m")))
    sdil, sy, stxt, sgrp = stars
    sdf = pd.DataFrame({"dil": sdil, "v": sy, "s": stxt, "col": [COL[g] for g in sgrp]})
    layers.append(alt.Chart(sdf).mark_text(font=FONT, fontSize=21, baseline="alphabetic", dy=12).encode(
        x=X("dil"), y=Y("v"), text="s:N", color=alt.Color("col:N", scale=None)))
    layers.append(alt.Chart(pd.DataFrame({"v": yvals})).mark_rule(color="black").encode(
        y=Y("v"), x=alt.value(0), x2=alt.value(4)))
    layers += title_layers
    layers.append(txt(letter, letter_x, -20.5, size=21, weight="bold", align="left"))
    return alt.layer(*layers).properties(width=w, height=h)


# ------------------------------------------------------------------ left traces
TRACE_W = 274
TRACE_DOM = [-0.1515, 4.0]


def left_panel(series, h, ydom, yellow, dil_lab, dil_v, letter, letter_y, extras=None, show_axis=False):
    xs = alt.Scale(domain=TRACE_DOM, nice=False, zero=False)
    ys = alt.Scale(domain=ydom, nice=False, zero=False)
    xaxis = None
    if show_axis:
        xaxis = alt.Axis(values=[0, 1, 2, 3, 4], title="time [s]", domain=False, tickSize=0,
                         labelPadding=0, titlePadding=5, labelFlush=False)
    X, Y = qfuncs(xs, ys, xaxis, None)
    layers = [alt.Chart(pd.DataFrame({"t0": [1.0], "t1": [2.0], "y0": [yellow[0]], "y1": [yellow[1]]})).mark_rect(
        color=YELLOW).encode(x=X("t0"), x2="t1", y=Y("y0"), y2="y1")]
    layers += band_line_layers(make_df(TL, series), X, Y)
    layers.append(dt_text(0.025, dil_v, dil_lab, X, Y))
    layers.append(txt(letter, -34, letter_y, size=21, weight="bold", align="left"))
    if extras is not None:
        layers += extras(X, Y)
    if show_axis:
        layers.append(alt.Chart(pd.DataFrame({"a": [0.0], "b": [4.0]})).mark_rule(color="black", strokeWidth=1.2).encode(
            x=X("a"), x2="b", y=alt.value(h)))
        layers.append(alt.Chart(pd.DataFrame({"v": [0, 1, 2, 3, 4]})).mark_rule(color="black").encode(
            x=X("v"), y=alt.value(h), y2=alt.value(h - 4)))
    return alt.layer(*layers).properties(width=TRACE_W, height=h)


def c_extras(X, Y):
    return [
        alt.Chart(pd.DataFrame({"a": [-0.15], "b": [6.92], "c": [8.92]})).mark_rule(color="black", strokeWidth=1.6).encode(
            x=X("a"), y=Y("b"), y2="c"),
        alt.Chart(pd.DataFrame({"a": [-0.12], "b": [0.88], "c": [6.23]})).mark_rule(color="black", strokeWidth=1.6).encode(
            x=X("a"), x2="b", y=Y("c")),
        dt_text(-0.5, 8.55, "2%", X, Y, size=16, weight="normal", align="center"),
        dt_text(-0.5, 7.45, "-ΔF/F", X, Y, size=16, weight="normal", align="center"),
        dt_text(0.355, 5.4, "1 s", X, Y, size=16, weight="normal", align="center"),
    ]


# ------------------------------------------------------------------ right traces
RIGHT_W = 288
XTITLE = "post pulse time [s]"


def right_panel(series, h, ydom, yvals, brs, sigs, dil_lab, dil_t, dil_v, letter, letter_y, letter_x=-45,
                title_y=None):
    xs = alt.Scale(domain=[0, 2], nice=False, zero=False)
    ys = alt.Scale(domain=ydom, nice=False, zero=False)
    xax = alt.Axis(values=[0, 0.5, 1, 1.5, 2], format="~g", title=XTITLE if title_y is None else None,
                   tickSize=0, labelPadding=0.5, titlePadding=2.5, labelFlush=False)
    yax = alt.Axis(values=yvals, format="~g", title=None, tickSize=0, labelPadding=2, labelFlush=False)
    X, Y = qfuncs(xs, ys, xax, yax)
    layers = band_line_layers(make_df(TR, series), X, Y)
    layers += bracket_layers(brs, X, Y)
    layers += sig_layers(sigs, X, Y)
    layers.append(dt_text(dil_t, dil_v, dil_lab, X, Y, size=16))
    layers.append(alt.Chart(pd.DataFrame({"v": yvals})).mark_rule(color="black").encode(
        y=Y("v"), x=alt.value(0), x2=alt.value(4)))
    layers.append(alt.Chart(pd.DataFrame({"v": [0.5, 1, 1.5, 2]})).mark_rule(color="black").encode(
        x=X("v"), y=alt.value(h), y2=alt.value(h - 4)))
    layers += ytitle_sub("sharpness", 73.8, "offset", 19.6, "@ t x s post pulse", h)
    layers.append(txt(letter, letter_x, letter_y, size=21, weight="bold", align="left"))
    if title_y is not None:
        layers.append(txt(XTITLE, RIGHT_W / 2, h + title_y))
    return alt.layer(*layers).properties(width=RIGHT_W, height=h)


# ------------------------------------------------------------------ legend
TOP_H = 51


def legend_chart():
    r1, r2 = 0.0, 16.5
    lay = [
        rect_px(-10, 10, r1 - 11, r1 - 2, COL["ctrl"]),
        rect_px(167, 187, r1 - 11, r1 - 2, COL["gA"]),
        rect_px(-10, 10, r2 - 11, r2 - 2, COL["gB"]),
        rect_px(167, 187, r2 - 11, r2 - 2, COL["gAB"]),
        txt("control (PDF-RNAi)", 14.3, r1, align="left", baseline="alphabetic"),
        txt("GABA", 190.3, r1, align="left", baseline="alphabetic"),
        txt("A", 234.8, r1 + 3, size=9, align="left", baseline="alphabetic"),
        txt("-RNAi", 241.3, r1, align="left", baseline="alphabetic"),
        txt("GABA", 14.3, r2, align="left", baseline="alphabetic"),
        txt("B", 58.8, r2 + 3, size=9, align="left", baseline="alphabetic"),
        txt("-RNAi", 65.3, r2, align="left", baseline="alphabetic"),
        txt("GABA", 190.3, r2, align="left", baseline="alphabetic"),
        txt("A", 234.8, r2 + 3, size=9, align="left", baseline="alphabetic"),
        txt("+ GABA", 245.7, r2, align="left", baseline="alphabetic"),
        txt("B", 304.0, r2 + 3, size=9, align="left", baseline="alphabetic"),
        txt("-RNAi", 310.5, r2, align="left", baseline="alphabetic"),
    ]
    return alt.layer(*lay).properties(width=289, height=TOP_H)


# ------------------------------------------------------------------ assemble
panel_A = dil_panel(
    [("ctrl", A_BLK, A_BLK_ERR), ("gA", A_RED, A_RED_ERR), ("gB", A_BLU, A_BLU_ERR), ("gAB", A_PUR, A_PUR_ERR)],
    [0, 12.2], [0, 4, 8, 12], (A_STAR_DIL, A_STAR_Y, A_STAR_TXT, A_STAR_GRP), 145.6, 289,
    [txt("max -ΔF/F", -26, 69.5, angle=270)], "A", -34, 4)

panel_B = dil_panel(
    [("ctrl", B_BLK, B_BLK_ERR), ("gA", B_RED, B_RED_ERR), ("gB", B_BLU, B_BLU_ERR), ("gAB", B_PUR, B_PUR_ERR)],
    [0, 1.4], [0, 0.4, 0.8, 1.2], (B_STAR_DIL, B_STAR_Y, B_STAR_TXT, B_STAR_GRP), 145.6, RIGHT_W,
    ytitle_sub("sharpness", 73.8, "max", 15.1, "@ t 1.5 s post pulse", 145.6), "B", -47, 2)

panel_C = left_panel([("ctrl", C_BLK, C_BLK_SE), ("gA", C_RED, C_RED_SE), ("gB", C_BLU, C_BLU_SE), ("gAB", C_PUR, C_PUR_SE)],
                     278.2, [-7.08, 14.38], [-0.55, 10.8], "1:25", 1.6, "C", 47.4, extras=c_extras)
panel_E = left_panel([("ctrl", E_BLK, E_BLK_SE), ("gA", E_RED, E_RED_SE), ("gB", E_BLU, E_BLU_SE), ("gAB", E_PUR, E_PUR_SE)],
                     214.4, [-4.77, 11.77], [-0.7, 10.46], "1:5", 1.15, "E", 0)
panel_G = left_panel([("ctrl", G_BLK, G_BLK_SE), ("gA", G_RED, G_RED_SE), ("gB", G_BLU, G_BLU_SE), ("gAB", G_PUR, G_PUR_SE)],
                     202.4, [-3.62, 12.0], [-0.7, 9.8], "1:3", 1.77, "G", 12.5)
panel_I = left_panel([("ctrl", I_BLK, I_BLK_SE), ("gA", I_RED, I_RED_SE), ("gB", I_BLU, I_BLU_SE), ("gAB", I_PUR, I_PUR_SE)],
                     169.5, [-1.15, 11.92], [-0.9, 10.3], "1:1", 1.7, "I", 10, show_axis=True)

panel_D = right_panel([("ctrl", D_BLK, D_BLK_SE), ("gA", D_RED, D_RED_SE), ("gB", D_BLU, D_BLU_SE), ("gAB", D_PUR, D_PUR_SE)],
                      144.6, [-0.5, 3], [0, 1, 2, 3], D_BRACKETS, D_SIG, "1:25", 1.66, 2.88, "D", -34.5)
panel_F = right_panel([("ctrl", F_BLK, F_BLK_SE), ("gA", F_RED, F_RED_SE), ("gB", F_BLU, F_BLU_SE), ("gAB", F_PUR, F_PUR_SE)],
                      145.6, [-0.5, 3], [0, 1, 2, 3], F_BRACKETS, F_SIG, "1:5", 1.68, 2.82, "F", -40.5)
panel_H = right_panel([("ctrl", H_BLK, H_BLK_SE), ("gA", H_RED, H_RED_SE), ("gB", H_BLU, H_BLU_SE), ("gAB", H_PUR, H_PUR_SE)],
                      145.6, [-0.5, 1.5], [0, 1], H_BRACKETS, H_SIG, "1:3", 1.68, 1.5, "H", -25.5)
panel_J = right_panel([("ctrl", J_BLK, J_BLK_SE), ("gA", J_RED, J_RED_SE), ("gB", J_BLU, J_BLU_SE), ("gAB", J_PUR, J_PUR_SE)],
                      144.6, [-1, 1.5], [-1, 0, 1], J_BRACKETS, J_SIG, "1:1", 1.67, 1.26, "J", -13, letter_x=-46,
                      title_y=21)

left = alt.vconcat(legend_chart(), panel_A, panel_C, panel_E, panel_G, panel_I, spacing=0, bounds="flush")
right = alt.vconcat(spacer(RIGHT_W, TOP_H), panel_B, spacer(RIGHT_W, 86.7), panel_D, spacer(RIGHT_W, 85.7), panel_F,
                    spacer(RIGHT_W, 66.8), panel_H, spacer(RIGHT_W, 44.9), panel_J, spacing=0, bounds="flush")

# nested column groups count as zero-width under flush bounds, so the spacing is the full column offset
chart = (
    alt.hconcat(left, right, spacing=334, bounds="flush")
    .properties(padding=0)
    .configure_view(stroke=None)
    .configure_axis(labelFont=FONT, titleFont=FONT, labelFontSize=16, titleFontSize=16, titleFontWeight="normal",
                    labelColor="black", titleColor="black", domainColor="black", domainWidth=1.2,
                    tickColor="black", grid=False)
)

chart.save("out.html", embed_options={"renderer": "svg", "actions": False})
